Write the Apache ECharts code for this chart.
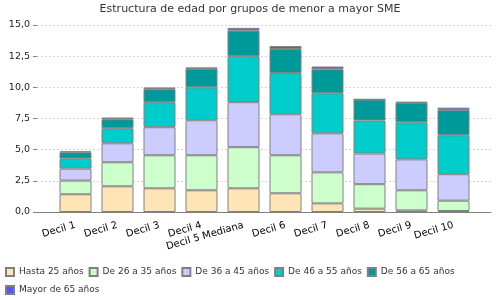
<!DOCTYPE html>
<html><head><meta charset="utf-8">
<script src="https://cdn.jsdelivr.net/npm/echarts@6/dist/echarts.min.js"></script>
<style>html,body{margin:0;padding:0;background:#fff}#c{width:500px;height:300px}</style>
</head><body><div id="c"></div>
<script>
var categories = ['Decil 1','Decil 2','Decil 3','Decil 4','Decil 5 Mediana','Decil 6','Decil 7','Decil 8','Decil 9','Decil 10'];
var seriesNames = ['Hasta 25 años','De 26 a 35 años','De 36 a 45 años','De 46 a 55 años','De 56 a 65 años','Mayor de 65 años'];
var hasta25 = [1.42, 2.06, 1.90, 1.74, 1.90, 1.50, 0.69, 0.27, 0.13, 0.08];
var de26a35 = [1.10, 1.93, 2.65, 2.81, 3.30, 3.05, 2.49, 1.96, 1.61, 0.83];
var de36a45 = [0.96, 1.52, 2.25, 2.81, 3.61, 3.29, 3.13, 2.46, 2.48, 2.12];
var de46a55 = [0.80, 1.21, 2.01, 2.64, 3.69, 3.30, 3.22, 2.65, 2.97, 3.13];
var de56a65 = [0.51, 0.72, 1.04, 1.48, 2.05, 1.93, 1.92, 1.68, 1.58, 2.01];
var mayor65 = [0.08, 0.14, 0.14, 0.12, 0.22, 0.24, 0.22, 0.03, 0.06, 0.20];
var yTicks = [0, 2.5, 5, 7.5, 10, 12.5, 15];
var colors = ['#FFE4B5','#CCFFCC','#CCCCFF','#00CCCC','#009999','#5555FF'];
var allData = [hasta25, de26a35, de36a45, de46a55, de56a65, mayor65];

var FONT = 'DejaVu Sans';
var chart = echarts.init(document.getElementById('c'), null, {renderer:'canvas'});
var series = seriesNames.map(function(n,i){
  return {name:n, type:'bar', stack:'total', xAxisIndex:1, yAxisIndex:1, barWidth:32,
    data: allData[i], itemStyle:{color:colors[i], borderColor:'#808080', borderWidth:1}};
});
chart.setOption({
  animation:false,
  title:{text:'Estructura de edad por grupos de menor a mayor SME', left:'center', top:4, padding:0,
    textStyle:{fontFamily:FONT, fontSize:11, fontWeight:'normal', color:'#333'}},
  grid:[
    {left:37, right:9, top:25, bottom:88},
    {left:54.5, right:25.5, top:25, bottom:88}
  ],
  xAxis:[
    {type:'category', gridIndex:0, data:[''], axisLine:{show:true, lineStyle:{color:'#808080', width:1}},
     axisTick:{show:false}, axisLabel:{show:false}, splitLine:{show:false}},
    {type:'category', gridIndex:1, data:categories, axisLine:{show:false}, axisTick:{show:false},
     axisLabel:{rotate:16, margin:13, interval:0, fontFamily:FONT, fontSize:10, color:'#000'}}
  ],
  yAxis:[
    {type:'value', gridIndex:0, min:yTicks[0], max:yTicks[yTicks.length-1], interval:2.5,
     axisLine:{show:false}, axisTick:{show:true, length:4, lineStyle:{color:'#808080'}},
     axisLabel:{margin:7, fontFamily:FONT, fontSize:9.5, color:'#222', formatter:function(v){return v.toFixed(1).replace('.',',');}},
     splitLine:{show:true, lineStyle:{color:'#d4d4d4', type:[2,2], width:1}}},
    {type:'value', gridIndex:1, min:yTicks[0], max:yTicks[yTicks.length-1], interval:2.5, show:false,
     splitLine:{show:false}}
  ],
  legend:[
    {data:seriesNames.slice(0,5), left:5, top:267, padding:0, itemWidth:8, itemHeight:8, itemGap:5, icon:'rect',
     textStyle:{fontFamily:FONT, fontSize:9, color:'#333'}},
    {data:seriesNames.slice(5), left:5, top:285, padding:0, itemWidth:8, itemHeight:8, itemGap:5, icon:'rect',
     textStyle:{fontFamily:FONT, fontSize:9, color:'#333'}}
  ],
  series: series
});
</script></body></html>
